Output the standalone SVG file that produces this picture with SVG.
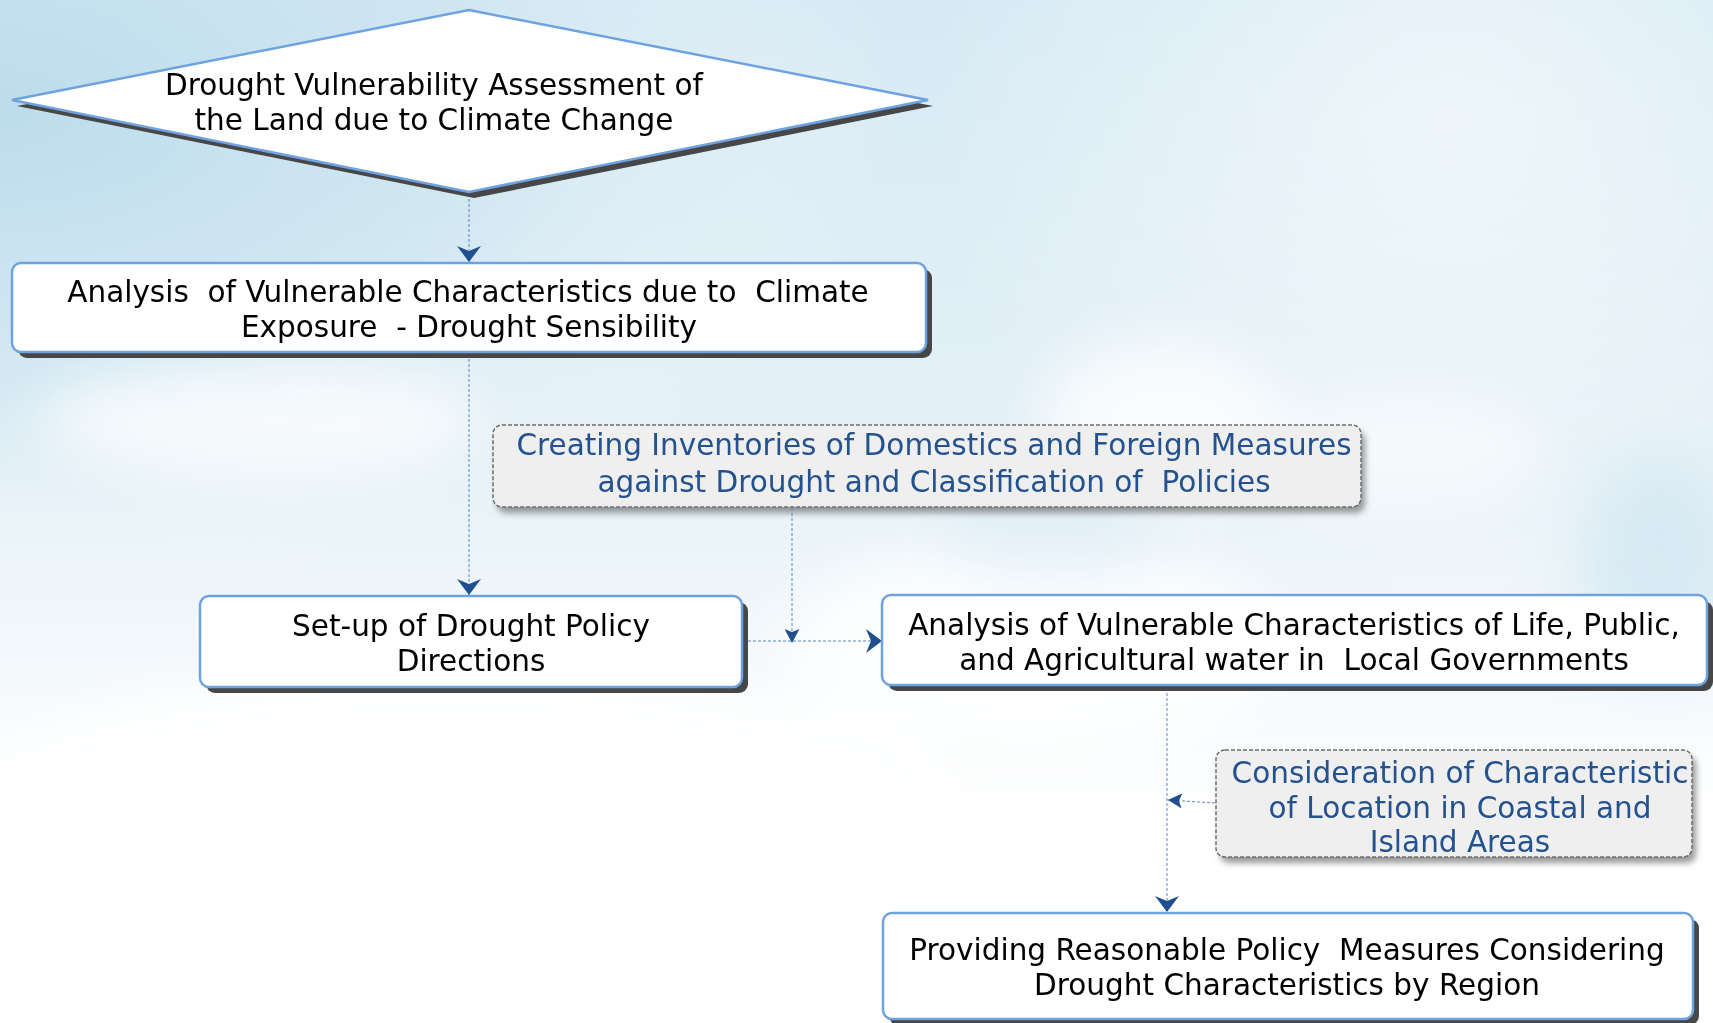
<svg xmlns="http://www.w3.org/2000/svg" width="1713" height="1023" viewBox="0 0 1713 1023">
  <defs>
    <linearGradient id="sky" x1="0" y1="0" x2="0" y2="1">
      <stop offset="0" stop-color="#d6eaf4"/>
      <stop offset="0.45" stop-color="#e5f1f7"/>
      <stop offset="0.68" stop-color="#f6fafd"/>
      <stop offset="0.8" stop-color="#ffffff"/>
      <stop offset="1" stop-color="#ffffff"/>
    </linearGradient>
    <radialGradient id="blueLeft" cx="0" cy="110" r="900" gradientUnits="userSpaceOnUse" gradientTransform="translate(0,110) scale(1,0.55) translate(0,-110)">
      <stop offset="0" stop-color="#bbdbeb" stop-opacity="0.95"/>
      <stop offset="0.55" stop-color="#c9e3ef" stop-opacity="0.55"/>
      <stop offset="1" stop-color="#ffffff" stop-opacity="0"/>
    </radialGradient>
    <radialGradient id="paleRight" cx="1450" cy="120" r="520" gradientUnits="userSpaceOnUse">
      <stop offset="0" stop-color="#ffffff" stop-opacity="0.55"/>
      <stop offset="1" stop-color="#ffffff" stop-opacity="0"/>
    </radialGradient>
    <filter id="blur" x="-50%" y="-50%" width="200%" height="200%">
      <feGaussianBlur stdDeviation="28"/>
    </filter>
    <filter id="softShadow" x="-10%" y="-20%" width="120%" height="150%">
      <feGaussianBlur stdDeviation="3"/>
    </filter>
    <marker id="arrowBig" viewBox="0 0 16 24" refX="16" refY="12" markerWidth="16" markerHeight="24" markerUnits="userSpaceOnUse" orient="auto">
      <path d="M0,0 L16,12 L0,24 L5,12 Z" fill="#1f4f8f"/>
    </marker>
    <marker id="arrowSmall" viewBox="0 0 14 15" refX="14" refY="7.5" markerWidth="14" markerHeight="15" markerUnits="userSpaceOnUse" orient="auto">
      <path d="M0,0 L14,7.5 L0,15 L3,7.5 Z" fill="#1f4f8f"/>
    </marker>
  </defs>
  <style>
    .box { fill: #ffffff; stroke: #6fa2e0; stroke-width: 2.5; }
    .shadow { fill: #474747; }
    .note { fill: #efefef; stroke: #6e6e6e; stroke-width: 1.5; stroke-dasharray: 4 2; }
    .noteShadow { fill: #777777; opacity: 0.75; }
    .txt { font-family: "DejaVu Sans", Verdana, sans-serif; font-size: 29.5px; fill: #000000; text-anchor: middle; white-space: pre; }
    .ntxt { font-family: "DejaVu Sans", Verdana, sans-serif; font-size: 29.5px; fill: #24528f; text-anchor: middle; white-space: pre; }
    .conn { fill: none; stroke: #5b87c1; stroke-width: 1; stroke-dasharray: 3 2; }
    .big { marker-end: url(#arrowBig); }
    .small { marker-end: url(#arrowSmall); }
  </style>

  <!-- background sky -->
  <g id="background">
    <rect x="0" y="0" width="1713" height="1023" fill="url(#sky)"/>
    <rect x="0" y="0" width="1713" height="1023" fill="url(#blueLeft)"/>
    <rect x="0" y="0" width="1713" height="1023" fill="url(#paleRight)"/>
    <g filter="url(#blur)" fill="#ffffff">
      <ellipse cx="260" cy="420" rx="220" ry="60" opacity="0.7"/>
      <ellipse cx="1160" cy="420" rx="120" ry="80" opacity="0.75"/>
      <ellipse cx="1030" cy="650" rx="250" ry="110" opacity="0.8"/>
      <ellipse cx="1400" cy="450" rx="150" ry="60" opacity="0.5"/>
      <ellipse cx="450" cy="840" rx="520" ry="170" opacity="0.95"/>
    </g>
    <g filter="url(#blur)" fill="#c7e1ee">
      <ellipse cx="1660" cy="570" rx="80" ry="110" opacity="0.55"/>
      <ellipse cx="1050" cy="530" rx="110" ry="55" opacity="0.3"/>
    </g>
  </g>

  <!-- connectors -->
  <g id="connectors">
    <path class="conn big" d="M469,194 L469,262"/>
    <path class="conn big" d="M469,354 L469,595"/>
    <path class="conn big" d="M743,641 L882,641"/>
    <path class="conn small" d="M792,508 L792,643"/>
    <path class="conn big" d="M1167,688 L1167,912"/>
    <path class="conn small" d="M1215,803 L1168,800"/>
  </g>

  <!-- nodes -->
  <g id="node-assessment">
    <polygon class="shadow" points="17,106 474,16 933,106 474,198"/>
    <polygon points="12,100 469,10 928,100 469,192" fill="#ffffff" stroke="#6fa2e0" stroke-width="2.5"/>
    <text class="txt" x="434" y="95">Drought Vulnerability Assessment of</text>
    <text class="txt" x="434" y="130">the Land due to Climate Change</text>
  </g>

  <g id="node-analysis-climate">
    <rect class="shadow" x="18" y="269" width="914" height="89" rx="9"/>
    <rect class="box" x="12" y="263" width="914" height="89" rx="9"/>
    <text class="txt" x="468" y="302">Analysis  of Vulnerable Characteristics due to  Climate</text>
    <text class="txt" x="469" y="337">Exposure  - Drought Sensibility</text>
  </g>

  <g id="node-inventories">
    <rect class="noteShadow" x="497" y="431" width="868" height="82" rx="9" filter="url(#softShadow)"/>
    <rect class="note" x="493" y="425" width="868" height="82" rx="9"/>
    <text class="ntxt" x="934" y="455">Creating Inventories of Domestics and Foreign Measures</text>
    <text class="ntxt" x="934" y="492">against Drought and Classification of  Policies</text>
  </g>

  <g id="node-setup">
    <rect class="shadow" x="206" y="602" width="542" height="91" rx="9"/>
    <rect class="box" x="200" y="596" width="542" height="91" rx="9"/>
    <text class="txt" x="471" y="636">Set-up of Drought Policy</text>
    <text class="txt" x="471" y="671">Directions</text>
  </g>

  <g id="node-analysis-water">
    <rect class="shadow" x="888" y="601" width="825" height="90" rx="9"/>
    <rect class="box" x="882" y="595" width="825" height="90" rx="9"/>
    <text class="txt" x="1294" y="635">Analysis of Vulnerable Characteristics of Life, Public,</text>
    <text class="txt" x="1294" y="670">and Agricultural water in  Local Governments</text>
  </g>

  <g id="node-coastal">
    <rect class="noteShadow" x="1220" y="756" width="476" height="107" rx="9" filter="url(#softShadow)"/>
    <rect class="note" x="1216" y="750" width="476" height="107" rx="9"/>
    <text class="ntxt" x="1460" y="783">Consideration of Characteristic</text>
    <text class="ntxt" x="1460" y="818">of Location in Coastal and</text>
    <text class="ntxt" x="1460" y="852">Island Areas</text>
  </g>

  <g id="node-policy-measures">
    <rect class="shadow" x="889" y="919" width="810" height="106" rx="9"/>
    <rect class="box" x="883" y="913" width="810" height="106" rx="9"/>
    <text class="txt" x="1287" y="960">Providing Reasonable Policy  Measures Considering</text>
    <text class="txt" x="1287" y="995">Drought Characteristics by Region</text>
  </g>
</svg>
